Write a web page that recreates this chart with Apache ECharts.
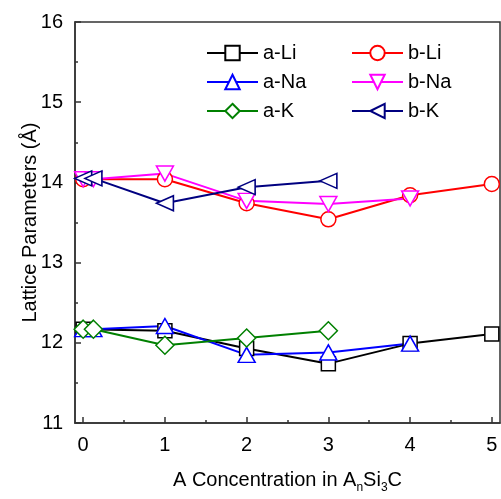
<!DOCTYPE html>
<html>
<head>
<meta charset="utf-8">
<script src="https://cdn.jsdelivr.net/npm/echarts@6/dist/echarts.min.js"></script>
<style>html,body{margin:0;padding:0;background:#fff}#c{width:501px;height:499px}</style>
</head>
<body>
<div id="c"></div>
<script>
// Data
const xLi = [0, 1, 2, 3, 4, 5];
const aLi = [12.17, 12.15, 11.93, 11.74, 11.99, 12.11];
const bLi = [14.04, 14.04, 13.74, 13.54, 13.84, 13.98];
const xNa = [0, 0.125, 1, 2, 3, 4];
const aNa = [12.17, 12.17, 12.21, 11.85, 11.88, 11.99];
const bNa = [14.04, 14.04, 14.11, 13.77, 13.73, 13.80];
const xK = [0, 0.125, 1, 2, 3];
const aK = [12.17, 12.17, 11.97, 12.06, 12.15];
const bK = [14.05, 14.05, 13.74, 13.94, 14.02];
const xTicks = [0, 1, 2, 3, 4, 5];
const xMinorTicks = [0.5, 1.5, 2.5, 3.5, 4.5];

const FONT = 'Liberation Sans, Arial, sans-serif';
const pair = (xs, ys) => xs.map((x, i) => [x, ys[i]]);

function mk(name, xs, ys, color, symbol, size, rot) {
  return {
    name, type: 'line', data: pair(xs, ys),
    symbol, symbolSize: size, symbolRotate: rot || 0,
    showAllSymbol: true,
    lineStyle: { color, width: 2 },
    itemStyle: { color: '#fff', borderColor: color, borderWidth: 1.5 },
    emphasis: { disabled: true },
    z: 2
  };
}

const legendText = { fontSize: 20, color: '#000', fontFamily: FONT, lineHeight: 20 };

const chart = echarts.init(document.getElementById('c'), null, { renderer: 'canvas' });
chart.setOption({
  animation: false,
  textStyle: { fontFamily: FONT },
  grid: { left: 75, right: 1, top: 22, bottom: 73, show: true, borderColor: '#333', borderWidth: 1.5, backgroundColor: 'transparent' },
  legend: [
    {
      data: ['a-Li', 'a-Na', 'a-K'], orient: 'vertical', left: 201, top: 38,
      itemWidth: 51, itemHeight: 18, itemGap: 9,
      textStyle: legendText
    },
    {
      data: ['b-Li', 'b-Na', 'b-K'], orient: 'vertical', left: 346, top: 38,
      itemWidth: 51, itemHeight: 18, itemGap: 9,
      textStyle: legendText
    }
  ],
  xAxis: [
    {
      type: 'value', min: -0.1, max: 5.1,
      name: '{a|A Concentration in A}{s|n}{a|Si}{s|3}{a|C}',
      nameLocation: 'middle', nameGap: 43, nameMoveOverlap: false,
      nameTextStyle: {
        color: '#000', fontSize: 20, fontFamily: FONT,
        rich: {
          a: { fontSize: 20, fontFamily: FONT, color: '#000' },
          s: { fontSize: 12, fontFamily: FONT, color: '#000', padding: [16, 0, 0, 0] }
        }
      },
      axisLine: { show: true, onZero: false, lineStyle: { color: '#333', width: 1.5 } },
      axisTick: { show: true, inside: true, length: 6, customValues: xTicks, lineStyle: { color: '#333', width: 1.5 } },
      axisLabel: { customValues: xTicks, fontSize: 20, color: '#000', margin: 12, fontFamily: FONT },
      splitLine: { show: false }
    },
    {
      type: 'value', min: -0.1, max: 5.1, position: 'bottom',
      axisLine: { show: false, onZero: false },
      axisTick: { show: true, inside: true, length: 3, customValues: xMinorTicks, lineStyle: { color: '#333', width: 1.5 } },
      axisLabel: { show: false },
      splitLine: { show: false }
    }
  ],
  yAxis: {
    type: 'value', min: 11, max: 16, interval: 1,
    name: 'Lattice Parameters (Å)', nameLocation: 'middle', nameGap: 35, nameMoveOverlap: false,
    nameTextStyle: { color: '#000', fontSize: 20, fontFamily: FONT },
    axisLine: { show: true, onZero: false, lineStyle: { color: '#333', width: 1.5 } },
    axisTick: { show: true, inside: true, length: 6, lineStyle: { color: '#333', width: 1.5 } },
    minorTick: { show: true, splitNumber: 2, length: 3, lineStyle: { color: '#333', width: 1.5 } },
    axisLabel: { fontSize: 20, color: '#000', margin: 12, fontFamily: FONT },
    splitLine: { show: false }
  },
  series: [
    mk('a-Li', xLi, aLi, '#000000', 'rect', 14),
    mk('b-Li', xLi, bLi, '#ff0000', 'circle', 15),
    mk('a-Na', xNa, aNa, '#0000ff', 'triangle', [17, 15]),
    mk('b-Na', xNa, bNa, '#ff00ff', 'triangle', [17, 15], 180),
    mk('a-K', xK, aK, '#008000', 'diamond', 18),
    mk('b-K', xK, bK, '#000080', 'triangle', [15, 17], 90)
  ]
});
</script>
</body>
</html>
